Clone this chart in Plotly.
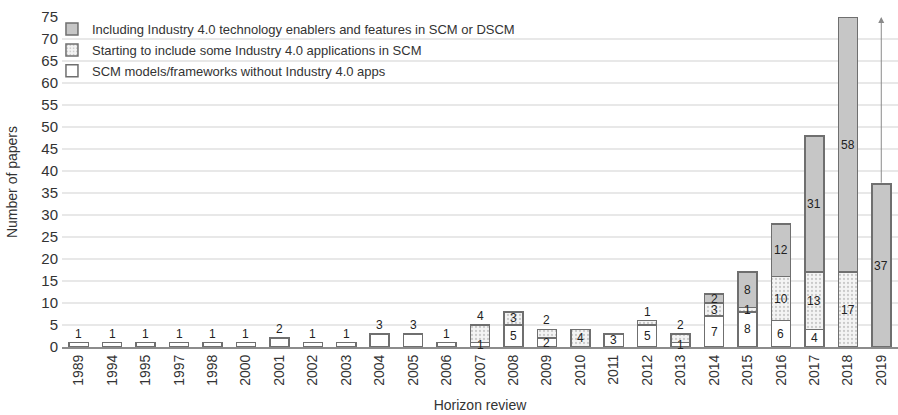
import plotly.graph_objects as go

years = ["1989", "1994", "1995", "1997", "1998", "2000", "2001", "2002", "2003",
         "2004", "2005", "2006", "2007", "2008", "2009", "2010", "2011", "2012",
         "2013", "2014", "2015", "2016", "2017", "2018", "2019"]
no_i40 = [1, 1, 1, 1, 1, 1, 2, 1, 1, 3, 3, 1, 1, 5, 2, 0, 3, 5, 1, 7, 8, 6, 4, 0, 0]
starting_i40 = [0, 0, 0, 0, 0, 0, 0, 0, 0, 0, 0, 0, 4, 3, 2, 4, 0, 1, 2, 3, 1, 10, 13, 17, 0]
including_i40 = [0, 0, 0, 0, 0, 0, 0, 0, 0, 0, 0, 0, 0, 0, 0, 0, 0, 0, 0, 2, 8, 12, 31, 58, 37]

names = ["SCM models/frameworks without Industry 4.0 apps",
         "Starting to include some Industry 4.0 applications in SCM",
         "Including Industry 4.0 technology enablers and features in SCM or DSCM"]

# label placement style: segments whose value label sits above the bar
labels_above = {(0, y) for y in years[:12]} | {(1, "2007"), (1, "2009"), (1, "2012"), (1, "2013")}

FONT = "Liberation Sans, Arial, sans-serif"
EDGE = "#6f6f6f"
TXT = "#222222"

fig = go.Figure()
fig.add_trace(go.Bar(x=years, y=no_i40, name=names[0], legendgroup="a", legendrank=3,
                     marker=dict(color="white", line=dict(color=EDGE, width=1.5))))
fig.add_trace(go.Bar(x=years, y=starting_i40, name=names[1], legendgroup="b", legendrank=2,
                     marker=dict(color="#f2f2f2", line=dict(color=EDGE, width=1.5),
                                 pattern=dict(shape=".", fgcolor="#a0a0a0", bgcolor="#f4f4f4",
                                              size=4, solidity=0.25))))
fig.add_trace(go.Bar(x=years, y=including_i40, name=names[2], legendgroup="c", legendrank=1,
                     marker=dict(color="#c6c6c6", line=dict(color=EDGE, width=1.5))))

annotations = []
series = [no_i40, starting_i40, including_i40]
for i, yr in enumerate(years):
    base = 0
    for s, vals in enumerate(series):
        v = vals[i]
        if v > 0:
            if (s, yr) in labels_above:
                annotations.append(dict(x=i, y=base + v, text=str(v), showarrow=False,
                                        yanchor="bottom", yshift=0,
                                        font=dict(size=12, color=TXT, family=FONT)))
            else:
                annotations.append(dict(x=i, y=base + v / 2, text=str(v), showarrow=False,
                                        yanchor="middle",
                                        font=dict(size=12, color=TXT, family=FONT)))
        base += v

# arrow above the last year up to the maximum total
totals = [a + b + c for a, b, c in zip(no_i40, starting_i40, including_i40)]
last = len(years) - 1
annotations.append(dict(x=last, y=max(totals), ax=last, ay=totals[-1],
                        xref="x", yref="y", axref="x", ayref="y", text="",
                        showarrow=True, arrowhead=2, arrowsize=1.2, arrowwidth=1,
                        arrowcolor="#8a8a8a"))

fig.update_layout(
    width=898, height=415,
    barmode="stack", bargap=0.43,
    plot_bgcolor="white", paper_bgcolor="white",
    margin=dict(l=62, r=0, t=17, b=68),
    font=dict(family=FONT, color="#333"),
    annotations=annotations,
    showlegend=True,
    legend=dict(x=-0.012, y=1.009, xanchor="left", yanchor="top",
                traceorder="grouped", tracegroupgap=1,
                bgcolor="rgba(0,0,0,0)", font=dict(size=13, color="#333", family=FONT)),
)
fig.update_xaxes(type="category", categoryorder="array", categoryarray=years,
                 range=[-0.5, len(years) - 0.5],
                 tickangle=-90, tickfont=dict(size=14, color="#333"),
                 showline=True, linecolor="#8c8c8c", linewidth=2, ticks="",
                 title=dict(text="Horizon review", font=dict(size=14, color="#333"), standoff=15),
                 showgrid=False)
fig.update_yaxes(range=[0, 75], dtick=5, tickfont=dict(size=15, color="#333"),
                 showgrid=True, gridcolor="#e8e8e8", gridwidth=1.5, zeroline=False,
                 ticks="", ticklabelstandoff=3,
                 title=dict(text="Number of papers", font=dict(size=14, color="#333"), standoff=20))

fig.write_html("out.html", config={"displayModeBar": False},
               post_script="document.body.style.margin='0';")
